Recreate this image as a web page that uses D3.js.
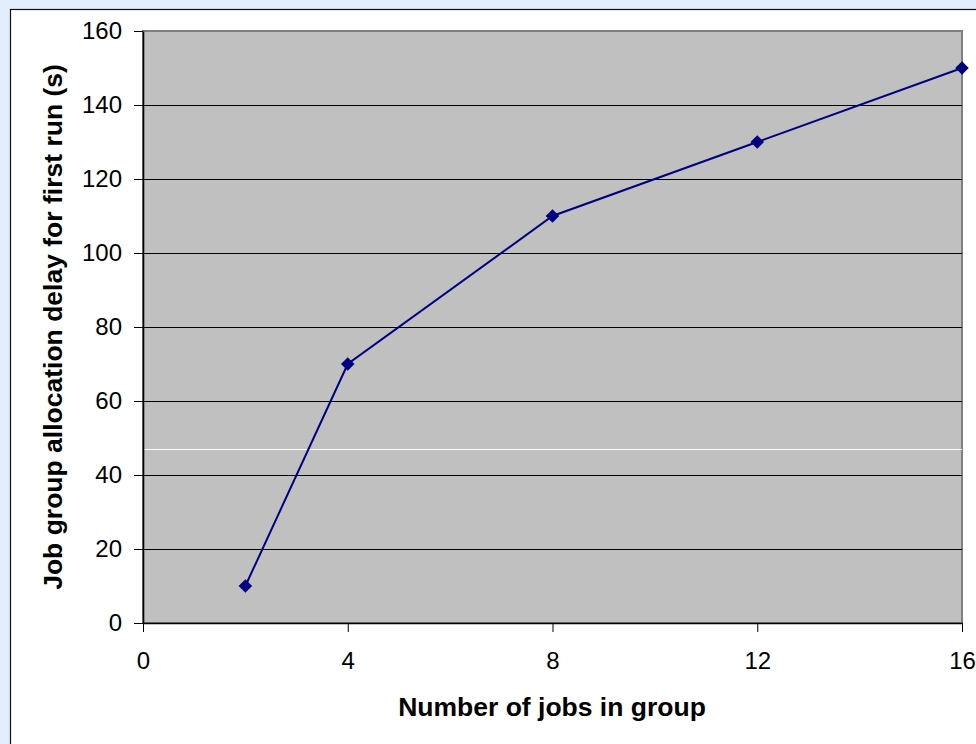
<!DOCTYPE html>
<html>
<head>
<meta charset="utf-8">
<script src="https://cdn.jsdelivr.net/npm/d3@7"></script>
<style>
  html, body { margin: 0; padding: 0; background: #e3eefc; }
  svg { display: block; }
</style>
</head>
<body>
<svg id="chart" width="976" height="744"></svg>
<script>
// Group size vs. allocation delay for the first run
const groupSizes = [2, 4, 8, 12, 16];
const delays = [10, 70, 110, 130, 150];
const xTicks = [0, 4, 8, 12, 16];
const yTicks = [0, 20, 40, 60, 80, 100, 120, 140, 160];
const markerLevel = [47];

const xTitle = "Number of jobs in group";
const yTitle = "Job group allocation delay for first run (s)";

const W = 976, H = 744;
const plot = { left: 143, right: 962, top: 31, bottom: 623 };

const svg = d3.select("#chart");

// white chart panel with a thin frame
svg.append("rect")
  .attr("x", 10.5).attr("y", 9.5)
  .attr("width", W).attr("height", H)
  .attr("fill", "#ffffff")
  .attr("stroke", "#111")
  .attr("stroke-width", 1.2);

const x = d3.scaleLinear().domain([0, 16]).range([plot.left, plot.right]);
const y = d3.scaleLinear().domain([0, 160]).range([plot.bottom, plot.top]);

// plot area
svg.append("rect")
  .attr("x", plot.left).attr("y", plot.top)
  .attr("width", plot.right - plot.left)
  .attr("height", plot.bottom - plot.top)
  .attr("fill", "#c0c0c0")
  .attr("stroke", "#808080")
  .attr("stroke-width", 2);

// horizontal gridlines
svg.append("g")
  .selectAll("line")
  .data(yTicks.filter(v => v > 0 && v < 160))
  .join("line")
  .attr("x1", plot.left).attr("x2", plot.right)
  .attr("y1", d => Math.round(y(d)) + 0.5)
  .attr("y2", d => Math.round(y(d)) + 0.5)
  .attr("stroke", "#000")
  .attr("stroke-width", 1);

// white level line
svg.append("g")
  .selectAll("line")
  .data(markerLevel)
  .join("line")
  .attr("x1", plot.left).attr("x2", plot.right)
  .attr("y1", d => Math.round(y(d)) + 0.5)
  .attr("y2", d => Math.round(y(d)) + 0.5)
  .attr("stroke", "#ffffff")
  .attr("stroke-width", 1);

// axes
const fontFam = "Arial, 'Liberation Sans', sans-serif";

const yAxis = svg.append("g")
  .attr("transform", `translate(${plot.left},0)`)
  .call(d3.axisLeft(y).tickValues(yTicks).tickSize(9).tickPadding(12).tickSizeOuter(0));
const xAxis = svg.append("g")
  .attr("transform", `translate(0,${plot.bottom})`)
  .call(d3.axisBottom(x).tickValues(xTicks).tickSize(9).tickPadding(20).tickSizeOuter(0));

[yAxis, xAxis].forEach(g => {
  g.select(".domain").attr("stroke", "#000").attr("stroke-width", 1.6);
  g.selectAll(".tick line").attr("stroke", "#000").attr("stroke-width", 1);
  g.selectAll("text")
    .attr("fill", "#000")
    .style("font-family", fontFam)
    .style("font-size", "24px");
});

// data line and markers
const pts = groupSizes.map((g, i) => [g, delays[i]]);

svg.append("path")
  .datum(pts)
  .attr("fill", "none")
  .attr("stroke", "#000080")
  .attr("stroke-width", 2)
  .attr("d", d3.line().x(d => x(d[0])).y(d => y(d[1])));

svg.append("g")
  .selectAll("path")
  .data(pts)
  .join("path")
  .attr("d", d3.symbol(d3.symbolSquare, 92))
  .attr("transform", d => `translate(${x(d[0])},${y(d[1])}) rotate(45)`)
  .attr("fill", "#000080");

// axis titles
svg.append("text")
  .attr("x", 552)
  .attr("y", 716)
  .attr("text-anchor", "middle")
  .style("font-family", fontFam)
  .style("font-weight", "bold")
  .style("font-size", "26.5px")
  .attr("fill", "#000")
  .text(xTitle);

svg.append("text")
  .attr("transform", `translate(62,327) rotate(-90)`)
  .attr("text-anchor", "middle")
  .style("font-family", fontFam)
  .style("font-weight", "bold")
  .style("font-size", "26.5px")
  .attr("fill", "#000")
  .text(yTitle);
</script>
</body>
</html>
